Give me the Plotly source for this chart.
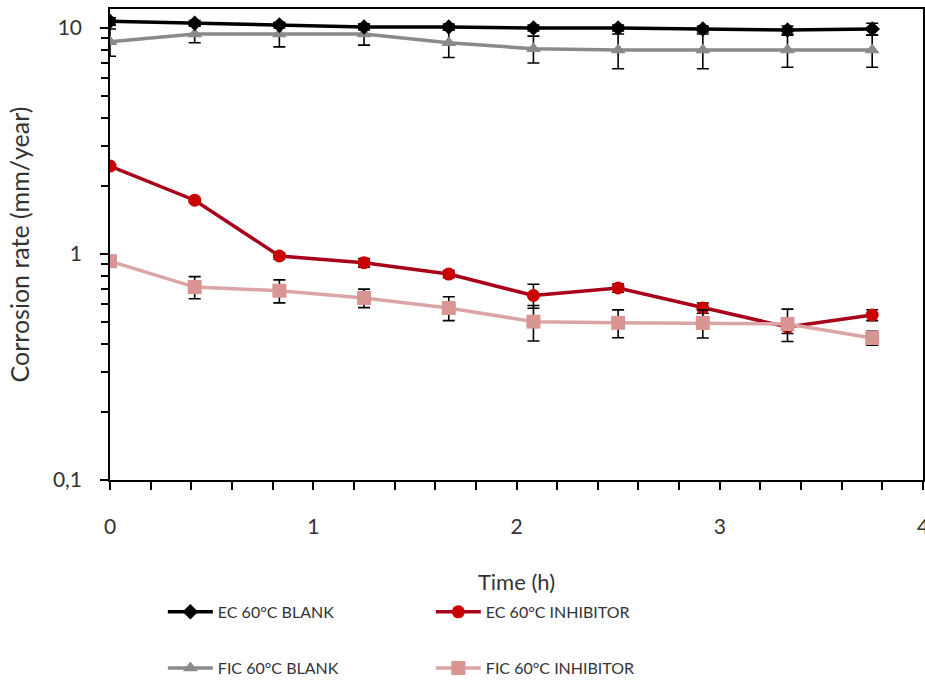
import plotly.graph_objects as go

time_h = [0, 0.4167, 0.8333, 1.25, 1.6667, 2.0833, 2.5, 2.9167, 3.3333, 3.75]

ec_blank = [10.7, 10.5, 10.3, 10.1, 10.1, 10.0, 10.0, 9.9, 9.8, 9.9]
ec_blank_err = [0.4, 0.3, 0.3, 0.3, 0.3, 0.3, 0.3, 0.3, 0.4, 0.6]

fic_blank = [8.7, 9.4, 9.4, 9.4, 8.6, 8.1, 8.0, 8.0, 8.0, 8.0]
fic_blank_err = [1.2, 0.8, 1.15, 1.0, 1.2, 1.1, 1.4, 1.4, 1.3, 1.3]

ec_inh = [2.45, 1.73, 0.98, 0.915, 0.815, 0.655, 0.707, 0.577, 0.475, 0.537]
ec_inh_err = [0.03, 0.03, 0.03, 0.04, 0.03, 0.08, 0.03, 0.03, 0.03, 0.03]

fic_inh = [0.93, 0.714, 0.688, 0.639, 0.577, 0.502, 0.496, 0.495, 0.49, 0.425]
fic_inh_err = [0.02, 0.08, 0.08, 0.06, 0.07, 0.09, 0.07, 0.07, 0.08, 0.03]

names = ["EC 60°C BLANK", "EC 60°C INHIBITOR", "FIC 60°C BLANK", "FIC 60°C INHIBITOR"]

y_tickvals = [0.1, 1, 10]
y_ticktext = ["0,1", "1", "10"]
y_minor = [m * 10.0 ** e for e in (-1, 0, 1) for m in range(2, 10)]

FONT = "Lato"
TXT = "#333333"

fig = go.Figure()


def err(vals):
    return dict(type="data", array=vals, visible=True, color="black", thickness=1.6, width=6)


fig.add_trace(go.Scatter(
    x=time_h, y=fic_blank, name=names[2], mode="lines+markers", legend="legend2",
    line=dict(color="#8a8a8a", width=3.5),
    marker=dict(symbol="triangle-up", size=13, color="#8a8a8a"),
    error_y=err(fic_blank_err)))
fig.add_trace(go.Scatter(
    x=time_h, y=ec_blank, name=names[0], mode="lines+markers", legend="legend",
    line=dict(color="#000000", width=3.5),
    marker=dict(symbol="diamond", size=12, color="#000000"),
    error_y=err(ec_blank_err)))
fig.add_trace(go.Scatter(
    x=time_h, y=ec_inh, name=names[1], mode="lines+markers", legend="legend",
    line=dict(color="#a8001a", width=3.5),
    marker=dict(symbol="circle", size=13, color="#c80000"),
    error_y=err(ec_inh_err)))
fig.add_trace(go.Scatter(
    x=time_h, y=fic_inh, name=names[3], mode="lines+markers", legend="legend2",
    line=dict(color="#dba5a5", width=3.5),
    marker=dict(symbol="square", size=14, color="#d99594"),
    error_y=err(fic_inh_err)))

legend_common = dict(orientation="h", xanchor="left", yanchor="middle",
                     entrywidth=208, entrywidthmode="pixels",
                     font=dict(family=FONT, size=16, color=TXT),
                     bgcolor="rgba(0,0,0,0)", itemwidth=45, traceorder="normal")

fig.update_layout(
    width=925, height=682,
    margin=dict(l=110, r=2, t=9, b=202),
    paper_bgcolor="white", plot_bgcolor="white",
    font=dict(family=FONT, size=21, color=TXT),
    showlegend=True,
    legend=dict(x=0.065, y=-0.28, **legend_common),
    legend2=dict(x=0.065, y=0.0205, yref="container", **legend_common),
    xaxis=dict(
        range=[0, 4], dtick=1, tick0=0, automargin=False,
        showgrid=False, zeroline=False,
        showline=True, linecolor="black", linewidth=1.5, mirror=True,
        ticks="outside", ticklen=8, tickwidth=1.5, tickcolor="black",
        ticklabelstandoff=19, ticklabeloverflow="allow",
        minor=dict(dtick=0.2, tick0=0, ticks="outside", ticklen=8, tickwidth=1.5, tickcolor="black", showgrid=False),
        title=dict(text="Time (h)", standoff=38, font=dict(size=22)),
        tickfont=dict(size=21),
    ),
    yaxis=dict(
        type="log", range=[-1, 1.084], automargin=False,
        tickvals=y_tickvals, ticktext=y_ticktext,
        showgrid=False, zeroline=False,
        showline=True, linecolor="black", linewidth=1.5, mirror=True,
        ticks="outside", ticklen=8, tickwidth=1.5, tickcolor="black",
        ticklabelstandoff=14,
        minor=dict(tickvals=y_minor, ticks="outside", ticklen=7, tickwidth=1.5, tickcolor="black", showgrid=False),
        title=dict(text="Corrosion rate (mm/year)", standoff=16, font=dict(size=25)),
        tickfont=dict(size=21),
    ),
)

fig.write_html("out.html")
